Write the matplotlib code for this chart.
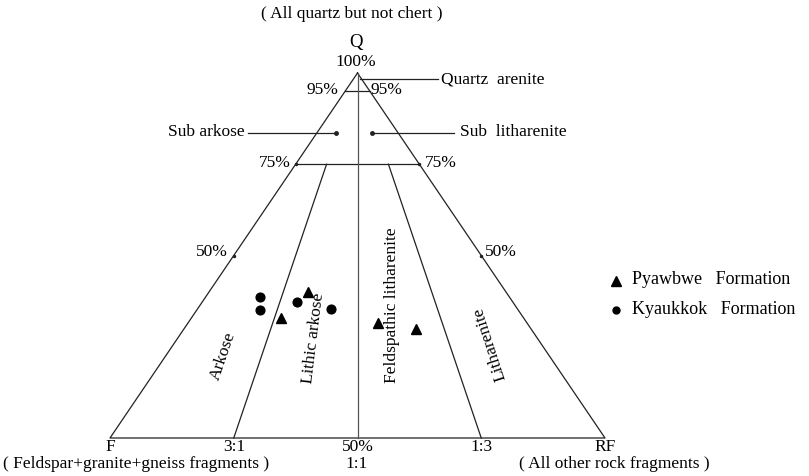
import matplotlib
matplotlib.use("Agg")
import matplotlib.pyplot as plt
import numpy as np

plt.rcParams['font.family'] = ['Liberation Serif', 'DejaVu Serif']

# sample compositions, percent (Q, F, RF)
pyawbwe_q = [40.0, 32.9, 31.5, 29.9]
pyawbwe_f = [40.0, 49.0, 30.1, 23.2]
pyawbwe_rf = [20.0, 18.1, 38.4, 46.9]

kyaukkok_q = [38.6, 35.1, 37.3, 35.3]
kyaukkok_f = [50.4, 52.1, 43.6, 37.7]
kyaukkok_rf = [11.0, 12.8, 19.1, 27.0]

base_ticks = ["F", "3:1", "50%", "1:3", "RF"]


def tern(q, f, rf):
    # Q at apex, F left, RF right
    q = np.asarray(q, float) / 100
    rf = np.asarray(rf, float) / 100
    return rf + q / 2, q


def px(x, y):
    # pixel position in the picture -> axes data coordinates
    return (x - 110) / 495, (438 - y) / 365


fig = plt.figure(figsize=(8.09, 4.76), dpi=100)
ax = fig.add_axes([0, 0, 1, 1])
ax.set_xlim(-110 / 495, (809 - 110) / 495)
ax.set_ylim((438 - 476) / 365, 438 / 365)
ax.axis('off')

lc = '#222222'
lw = 0.9

# triangle outline
tx, ty = tern([100, 0, 0, 100], [0, 100, 0, 0], [0, 0, 100, 0])
ax.plot(tx, ty, color=lc, lw=lw)

# 95% and 75% quartz lines
for qv in [95, 75]:
    lx, ly = tern([qv, qv], [100 - qv, 0], [0, 100 - qv])
    ax.plot(lx, ly, color=lc, lw=lw)

# center line 1:1
cx, cy = tern([100, 0], [0, 50], [0, 50])
ax.plot(cx, cy, color='#555555', lw=lw)

# 3:1 and 1:3 lines from 75% down to base
for fr in [0.75, 0.25]:
    lx, ly = tern([75, 0], [25 * fr, 100 * fr], [25 * (1 - fr), 100 * (1 - fr)])
    ax.plot(lx, ly, color=lc, lw=lw)

# tick marks on the sides
for qv in [75, 50]:
    sx, sy = tern([qv, qv], [100 - qv, 0], [0, 100 - qv])
    ax.plot(sx, sy, ls='none', marker='.', ms=3, color=lc)

# data
x, y = tern(pyawbwe_q, pyawbwe_f, pyawbwe_rf)
ax.plot(x, y, ls='none', marker='^', ms=6.5, color='black')
x, y = tern(kyaukkok_q, kyaukkok_f, kyaukkok_rf)
ax.plot(x, y, ls='none', marker='o', ms=6.3, color='black')

fs = 12.5
kw = dict(fontsize=fs, color='black')

ax.text(*px(352, 14), '( All quartz but not chert )', ha='center', va='center', **kw)
ax.text(*px(356, 42), 'Q', ha='center', va='center', fontsize=13.5)
ax.text(*px(356, 62), '100%', ha='center', va='center', **kw)
ax.text(*px(322, 90), '95%', ha='center', va='center', **kw)
ax.text(*px(386, 90), '95%', ha='center', va='center', **kw)
ax.text(*px(275, 163), '75%', ha='center', va='center', **kw)
ax.text(*px(441, 163), '75%', ha='center', va='center', **kw)
ax.text(*px(212, 252), '50%', ha='center', va='center', **kw)
ax.text(*px(501, 252), '50%', ha='center', va='center', **kw)

# leader lines
ax.plot(*zip(px(360, 79), px(438, 79)), color=lc, lw=lw)
ax.text(*px(441, 79), 'Quartz  arenite', ha='left', va='center', **kw)
ax.plot(*zip(px(248, 133), px(336, 133)), color=lc, lw=lw)
ax.plot(*px(336, 133), marker='.', ms=5, color=lc)
ax.text(*px(245, 132), 'Sub arkose', ha='right', va='center', **kw)
ax.plot(*zip(px(372, 133), px(454, 133)), color=lc, lw=lw)
ax.plot(*px(372, 133), marker='.', ms=5, color=lc)
ax.text(*px(460, 132), 'Sub  litharenite', ha='left', va='center', **kw)

# field names
ax.text(*px(223, 356), 'Arkose', rotation=71, ha='center', va='center', **kw)
ax.text(*px(314, 338), 'Lithic arkose', rotation=83, ha='center', va='center', **kw)
ax.text(*px(392, 305), 'Feldspathic litharenite', rotation=90, ha='center', va='center', **kw)
ax.text(*px(490, 344), 'Litharenite', rotation=108, ha='center', va='center', **kw)

# base labels
for i, lab in enumerate(base_ticks):
    bx, _ = tern([0], [100 - 25 * i], [25 * i])
    ax.text(bx[0], px(0, 447)[1], lab, ha='center', va='center', **kw)
ax.text(*px(136, 464), '( Feldspar+granite+gneiss fragments )', ha='center', va='center', **kw)
ax.text(*px(357, 464), '1:1', ha='center', va='center', **kw)
ax.text(*px(614, 464), '( All other rock fragments )', ha='center', va='center', **kw)

# legend
ax.plot(*px(616, 281), marker='^', ms=6.5, color='black')
ax.text(*px(632, 280), 'Pyawbwe   Formation', ha='left', va='center', fontsize=13, color='black')
ax.plot(*px(616, 310), marker='o', ms=5, color='black')
ax.text(*px(632, 309), 'Kyaukkok   Formation', ha='left', va='center', fontsize=13, color='black')

fig.savefig('out.png', dpi=100)
